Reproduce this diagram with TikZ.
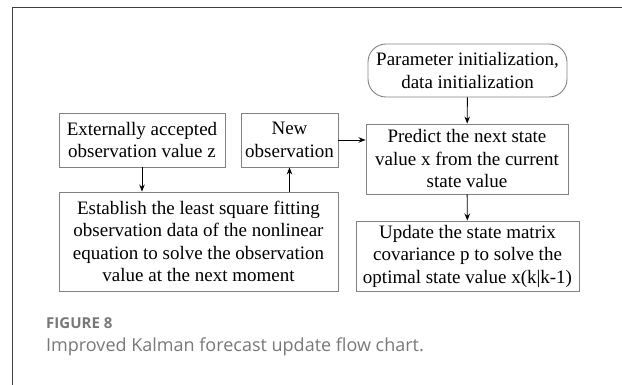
\documentclass[tikz,border=0pt]{standalone}
\usepackage{fontspec}
\setmainfont{Liberation Serif}
\newfontfamily\capfont{Open Sans}
\usetikzlibrary{arrows.meta}
\definecolor{boxgray}{RGB}{130,130,130}
\definecolor{capgray}{RGB}{120,120,120}
\begin{document}
\begin{tikzpicture}[x=1pt, y=1pt,
box/.style={draw=boxgray, line width=0.9pt, rectangle, align=center, inner sep=0pt, font=\fontsize{19}{22.5}\selectfont},
arr/.style={-{Stealth[length=7pt, width=5.5pt]}, line width=0.9pt}
]
\useasboundingbox (0,0) rectangle (622,385);
\draw[black!75, line width=1.2pt] (12.5,0) -- (12.5,377.5) -- (622,377.5);

\node[box, rounded corners=18pt, minimum width=199pt, minimum height=53pt] (init) at (467.5,314.5) {Parameter initialization,\\data initialization};
\node[box, minimum width=202pt, minimum height=70pt] (predict) at (467,226) {Predict the next state\\value x from the current\\state value};
\node[box, minimum width=223pt, minimum height=70pt] (update) at (467.5,129) {Update the state matrix\\covariance p to solve the\\optimal state value x(k|k-1)};
\node[box, minimum width=166pt, minimum height=54pt] (ext) at (142,245) {Externally accepted\\observation value z};
\node[box, minimum width=97pt, minimum height=54pt] (newobs) at (289.5,245) {New\\observation};
\node[box, minimum width=279pt, minimum height=99pt] (establish) at (198.5,143.5) {Establish the least square fitting\\observation data of the nonlinear\\equation to solve the observation\\value at the next moment};

\draw[arr] (init) -- (predict);
\draw[arr] (predict) -- (update);
\draw[arr] (ext) -- (ext.south |- establish.north);
\draw[arr] (newobs.south |- establish.north) -- (newobs);
\draw[arr] (newobs.east) -- (newobs.east -| predict.west);

\node[anchor=base west, inner sep=0pt, text=capgray, font=\capfont\bfseries\fontsize{15}{17}\selectfont] (fig) at (46,56) {FIGURE 8};
\node[anchor=base west, inner sep=0pt, text=capgray, font=\capfont\fontsize{18}{21}\selectfont] (caption) at (46,33) {Improved Kalman forecast update flow chart.};
\end{tikzpicture}
\end{document}
